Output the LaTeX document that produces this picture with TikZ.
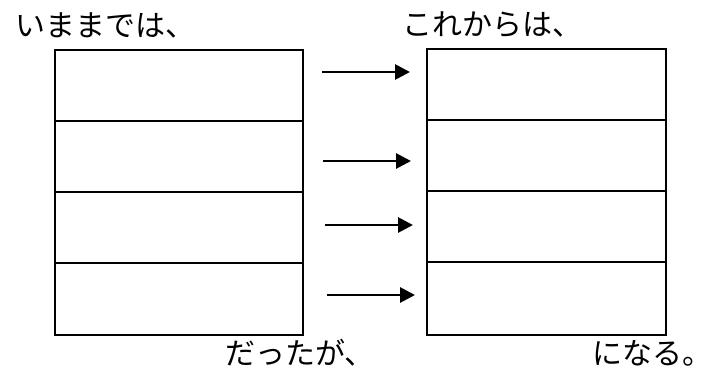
\documentclass[tikz,border=0pt]{standalone}
\usepackage{fontspec}
\newfontfamily\cjk{Noto Sans CJK JP}
\usetikzlibrary{arrows.meta}
\begin{document}
\begin{tikzpicture}[x=1pt,y=-1pt,
  cell/.style={draw=black,line width=2.2pt,minimum width=248pt,minimum height=71pt,inner sep=0pt,anchor=north west},
  rcell/.style={draw=black,line width=2.2pt,minimum width=239pt,minimum height=71pt,inner sep=0pt,anchor=north west},
  lbl/.style={font=\cjk\fontsize{30}{33}\selectfont,inner sep=0pt,anchor=west},
  arr/.style={line width=2.8pt,-{Triangle[length=15pt,width=15pt]}}]
\useasboundingbox (0,0) rectangle (712,378);
\node[cell] (l1) at (54,49) {};
\node[cell] (l2) at (54,120) {};
\node[cell] (l3) at (54,191) {};
\node[cell,minimum height=72pt] (l4) at (54,262) {};
\node[rcell] (r1) at (426,48) {};
\node[rcell] (r2) at (426,119) {};
\node[rcell] (r3) at (426,190) {};
\node[rcell,minimum height=73pt] (r4) at (426,261) {};
\coordinate (a1s) at (322,72); \coordinate (a1e) at (410,72);
\coordinate (a2s) at (323,161); \coordinate (a2e) at (411,161);
\coordinate (a3s) at (325,225); \coordinate (a3e) at (413,225);
\coordinate (a4s) at (327,295); \coordinate (a4e) at (415,295);
\draw[arr] (a1s) -- (a1e);
\draw[arr] (a2s) -- (a2e);
\draw[arr] (a3s) -- (a3e);
\draw[arr] (a4s) -- (a4e);
\node[lbl] (t1) at (15,25) {いままでは、};
\node[lbl] (t2) at (402,25) {これからは、};
\node[lbl] (t3) at (225,353) {だったが、};
\node[lbl] (t4) at (592,353) {になる。};
\end{tikzpicture}
\end{document}
